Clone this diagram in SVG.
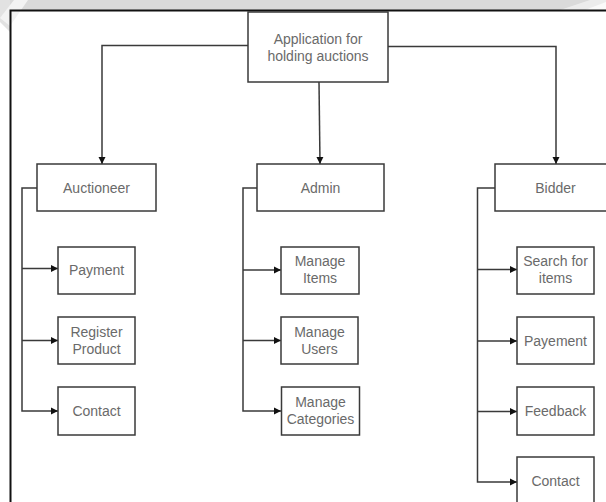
<svg xmlns="http://www.w3.org/2000/svg" width="606" height="502" viewBox="0 0 606 502">
<style>
.box{fill:#fff;stroke:#3a3a3a;stroke-width:1.5}
.lbl{font-family:"Liberation Sans",Arial,sans-serif;font-size:14px;fill:#6a6a6a;text-anchor:middle}
.con{fill:none;stroke:#3a3a3a;stroke-width:1.5}
</style>
<defs>
<marker id="arr" markerUnits="userSpaceOnUse" markerWidth="8" markerHeight="8" refX="7" refY="4" orient="auto">
<path d="M0,0.5 L7,4 L0,7.5 z" fill="#111"/>
</marker>
</defs>
<rect x="0" y="0" width="606" height="502" fill="#fff"/>
<g id="background">
<rect x="0" y="0" width="606" height="10" fill="#dadada"/>
<polygon points="0,0 10,0 10,32 0,22" fill="#e2e2e2"/>
<polygon points="0,18 14,0 28,0 10,26" fill="#f3f3f3"/>
<polygon points="560,10 590,0 606,0 606,10" fill="#ececec"/>
<polygon points="585,10 606,2 606,10" fill="#fafafa"/>
<path d="M10.5,502 V10.5 H606" fill="none" stroke="#111" stroke-width="2"/>
</g>
<g id="connectors">
<path class="con" d="M248,45.5 H102 V164" marker-end="url(#arr)"/>
<path class="con" d="M388,46.5 H556 V164" marker-end="url(#arr)"/>
<path class="con" d="M319,82 L320,164" marker-end="url(#arr)"/>
<path class="con" d="M37,188 H22 V411 H58" marker-end="url(#arr)"/>
<path class="con" d="M22,268.5 H58" marker-end="url(#arr)"/>
<path class="con" d="M22,340.5 H58" marker-end="url(#arr)"/>
<path class="con" d="M257,188 H243 V411 H281" marker-end="url(#arr)"/>
<path class="con" d="M243,270 H281" marker-end="url(#arr)"/>
<path class="con" d="M243,340.5 H281" marker-end="url(#arr)"/>
<path class="con" d="M495,188 H477.5 V482 H517" marker-end="url(#arr)"/>
<path class="con" d="M477.5,269.5 H517" marker-end="url(#arr)"/>
<path class="con" d="M477.5,341 H517" marker-end="url(#arr)"/>
<path class="con" d="M477.5,411.5 H517" marker-end="url(#arr)"/>
</g>
<g id="root">
<rect class="box" x="248" y="12" width="140" height="70"/>
<text class="lbl" x="318" y="44">Application for</text>
<text class="lbl" x="318" y="61">holding auctions</text>
</g>
<g id="auctioneer">
<rect class="box" x="37" y="164" width="119" height="47"/>
<text class="lbl" x="96.5" y="193">Auctioneer</text>
</g>
<g id="admin">
<rect class="box" x="257" y="164" width="127" height="47"/>
<text class="lbl" x="320.5" y="193">Admin</text>
</g>
<g id="bidder">
<rect class="box" x="495" y="164" width="125" height="47"/>
<text class="lbl" x="555.5" y="193">Bidder</text>
</g>
<g id="a-payment">
<rect class="box" x="58" y="247" width="77" height="47"/>
<text class="lbl" x="96.5" y="275">Payment</text>
</g>
<g id="a-register">
<rect class="box" x="58" y="317" width="77" height="47"/>
<text class="lbl" x="96.5" y="336.5">Register</text>
<text class="lbl" x="96.5" y="353.5">Product</text>
</g>
<g id="a-contact">
<rect class="box" x="58" y="387" width="77" height="48"/>
<text class="lbl" x="96.5" y="416">Contact</text>
</g>
<g id="m-items">
<rect class="box" x="281" y="247" width="78" height="47"/>
<text class="lbl" x="320" y="266">Manage</text>
<text class="lbl" x="320" y="283">Items</text>
</g>
<g id="m-users">
<rect class="box" x="281" y="317" width="77" height="47"/>
<text class="lbl" x="319.5" y="336.5">Manage</text>
<text class="lbl" x="319.5" y="353.5">Users</text>
</g>
<g id="m-categories">
<rect class="box" x="281.5" y="387" width="78" height="48"/>
<text class="lbl" x="320.5" y="406.5">Manage</text>
<text class="lbl" x="320.5" y="423.5">Categories</text>
</g>
<g id="b-search">
<rect class="box" x="517" y="247" width="77" height="47"/>
<text class="lbl" x="555.5" y="266">Search for</text>
<text class="lbl" x="555.5" y="283">items</text>
</g>
<g id="b-payement">
<rect class="box" x="517" y="317" width="77" height="47"/>
<text class="lbl" x="555.5" y="345.5">Payement</text>
</g>
<g id="b-feedback">
<rect class="box" x="517" y="387" width="77" height="48"/>
<text class="lbl" x="555.5" y="416">Feedback</text>
</g>
<g id="b-contact">
<rect class="box" x="517" y="457" width="77" height="50"/>
<text class="lbl" x="555.5" y="486">Contact</text>
</g>
</svg>
